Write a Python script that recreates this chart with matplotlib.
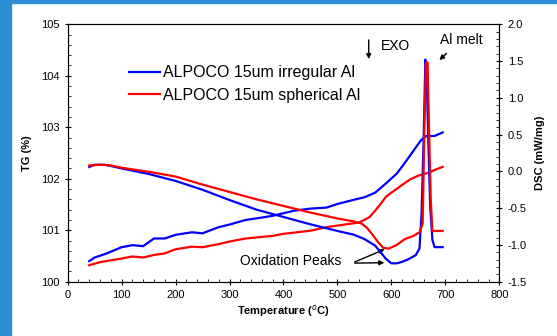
import matplotlib.pyplot as plt
from matplotlib.patches import Rectangle

plt.rcParams['font.family'] = ['Liberation Sans', 'DejaVu Sans']

# TG curves (left axis)
t_tg_irr = [40, 50, 70, 100, 120, 140, 160, 180, 200, 230, 250, 280, 300, 330, 350, 380, 400, 420, 450,
            480, 500, 530, 550, 570, 590, 610, 625, 640, 655, 665, 680, 695]
tg_irr = [100.40, 100.47, 100.54, 100.67, 100.71, 100.69, 100.84, 100.84, 100.91, 100.96, 100.94, 101.06,
          101.11, 101.20, 101.23, 101.28, 101.33, 101.38, 101.42, 101.44, 101.51, 101.59, 101.64, 101.73,
          101.91, 102.10, 102.31, 102.53, 102.75, 102.83, 102.83, 102.90]

t_tg_sph = [40, 60, 100, 120, 140, 160, 180, 200, 230, 250, 280, 300, 330, 350, 380, 400, 450, 480, 500,
            520, 540, 550, 560, 570, 580, 590, 600, 620, 635, 650, 670, 680, 695]
tg_sph = [100.32, 100.38, 100.45, 100.49, 100.47, 100.52, 100.55, 100.63, 100.68, 100.67, 100.73, 100.78,
          100.84, 100.86, 100.89, 100.93, 100.99, 101.06, 101.09, 101.12, 101.15, 101.20, 101.26, 101.38,
          101.51, 101.65, 101.73, 101.88, 101.99, 102.06, 102.12, 102.17, 102.23]

# DSC curves (right axis)
t_dsc_irr = [40, 50, 70, 100, 150, 200, 250, 300, 350, 400, 450, 500, 530, 550, 570, 580, 590, 600, 610,
             620, 630, 645, 652, 656, 660, 663, 665, 668, 672, 676, 680, 695]
dsc_irr = [0.06, 0.09, 0.09, 0.04, -0.035, -0.13, -0.25, -0.39, -0.52, -0.62, -0.72, -0.81, -0.86, -0.92,
           -1.01, -1.10, -1.19, -1.25, -1.25, -1.23, -1.20, -1.14, -1.05, -0.57, 0.52, 1.52, 1.42, 0.52,
           -0.48, -0.93, -1.03, -1.03]

t_dsc_sph = [40, 60, 80, 100, 150, 200, 250, 300, 350, 400, 450, 500, 530, 545, 555, 565, 575, 585, 595,
             610, 625, 640, 652, 658, 661, 664, 667, 670, 673, 676, 680, 695]
dsc_sph = [0.08, 0.09, 0.08, 0.05, -0.005, -0.07, -0.18, -0.28, -0.38, -0.47, -0.56, -0.64, -0.68, -0.71,
           -0.77, -0.86, -0.96, -1.04, -1.05, -1.00, -0.92, -0.88, -0.83, -0.71, 0.52, 1.48, 1.48, 0.52,
           -0.39, -0.81, -0.81, -0.81]

labels = ['ALPOCO 15um irregular Al', 'ALPOCO 15um spherical Al']
blue = '#0000ff'
red = '#ff0000'

fig = plt.figure(figsize=(5.57, 3.36), dpi=100, facecolor='white')
# blue frame strips
fig.patches.append(Rectangle((0, 0), 11 / 557, 1, transform=fig.transFigure, color='#2c8fd3', zorder=0))
fig.patches.append(Rectangle((0, 1 - 3 / 336), 1, 3 / 336, transform=fig.transFigure, color='#2c8fd3', zorder=0))

ax = fig.add_axes([0.1215, 0.1616, 0.7749, 0.7661])
ax2 = ax.twinx()

ax.plot(t_tg_irr, tg_irr, color=blue, lw=1.6, label=labels[0])
ax.plot(t_tg_sph, tg_sph, color=red, lw=1.6, label=labels[1])
ax2.plot(t_dsc_irr, dsc_irr, color=blue, lw=1.6)
ax2.plot(t_dsc_sph, dsc_sph, color=red, lw=1.6)

ax.set_xlim(0, 800)
ax.set_ylim(100, 105)
ax2.set_ylim(-1.5, 2.0)
ax.set_xticks(range(0, 801, 100))
ax.set_xticks(range(0, 801, 20), minor=True)
ax.set_yticks(range(100, 106))
ax.set_yticks([100 + 0.2 * i for i in range(26)], minor=True)
ax2.set_yticks([-1.5, -1.0, -0.5, 0.0, 0.5, 1.0, 1.5, 2.0])
ax2.set_yticks([-1.5 + 0.1 * i for i in range(36)], minor=True)
ax2.set_yticklabels(['-1.5', '-1.0', '-0.5', '0.0', '0.5', '1.0', '1.5', '2.0'])

for a in (ax, ax2):
    a.tick_params(which='major', direction='inout', length=5, width=0.8, labelsize=8)
    a.tick_params(which='minor', direction='in', length=2.5, width=0.6)
ax.tick_params(axis='x', which='both', top=False)

ax.set_xlabel('Temperature ($^o$C)', fontsize=8, fontweight='bold', labelpad=2)
ax.set_ylabel('TG (%)', fontsize=8, fontweight='bold', labelpad=6)
ax2.set_ylabel('DSC (mW/mg)', fontsize=8, fontweight='bold', labelpad=6)

ax.legend(loc='upper left', bbox_to_anchor=(0.128, 0.865), frameon=False, fontsize=11.5,
          handlelength=1.9, handletextpad=0.2, labelspacing=0.45, borderaxespad=0)

# annotations
arrow = dict(arrowstyle='-|>', color='black', lw=1, mutation_scale=7)
ax.annotate('', xy=(558, 104.27), xytext=(558, 104.75), arrowprops=arrow)
ax.text(581, 104.58, 'EXO', fontsize=10, va='center')
ax.text(729, 104.70, 'Al melt', fontsize=10, va='center', ha='center')
ax.annotate('', xy=(685, 104.27), xytext=(706, 104.47), arrowprops=arrow)
ax.text(320, 100.4, 'Oxidation Peaks', fontsize=10, va='center')
ax.annotate('', xy=(592, 100.65), xytext=(527, 100.36), arrowprops=arrow)
ax.annotate('', xy=(592, 100.37), xytext=(527, 100.36), arrowprops=arrow)

fig.savefig('out.png', dpi=100, facecolor='white')
